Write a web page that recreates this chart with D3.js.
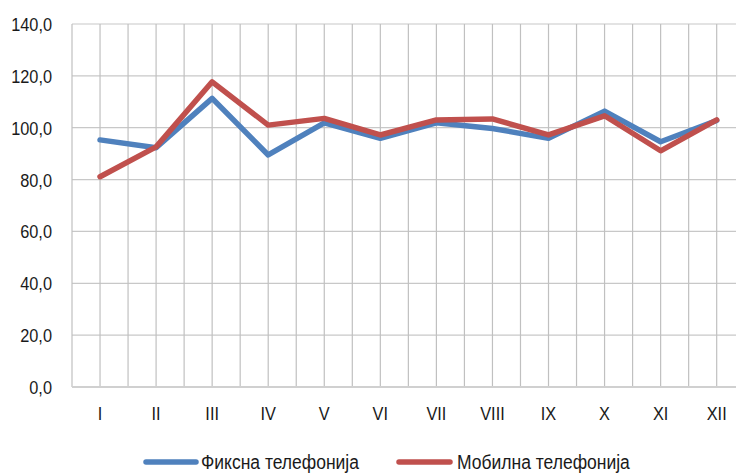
<!DOCTYPE html>
<html><head><meta charset="utf-8">
<script src="https://cdn.jsdelivr.net/npm/d3@7"></script>
<style>body{margin:0;background:#fff}svg{display:block}text{font-family:"Liberation Sans",Arial,sans-serif;fill:#1a1a1a}</style>
</head><body><svg id="c" width="736" height="473"></svg>
<script>
const months = ["I","II","III","IV","V","VI","VII","VIII","IX","X","XI","XII"];
const fixed = [95.3,92.3,111.3,89.5,101.9,95.9,101.9,99.7,95.9,106.4,94.6,102.8];
const mobile = [81.1,92.6,117.7,101.0,103.6,97.2,103.0,103.4,97.2,104.6,91.1,103.0];
const yTicks = [0,20,40,60,80,100,120,140];
const seriesNames = ["Фиксна телефонија","Мобилна телефонија"];
const colors = ["#4f81bd","#c0504d"];

const svg = d3.select("#c");
const mLeft = 72, mTop = 24, mBottom = 387, band = 56.06, sx = 0.86;
const x = d3.scaleBand().domain(months).range([mLeft, mLeft + band*months.length]).padding(0);
const y = d3.scaleLinear().domain([0,140]).range([mBottom, mTop]);
const cx = d => x(d) + x.bandwidth()/2;

svg.append("g").selectAll("line").data(yTicks.filter(t=>t>0)).join("line")
  .attr("x1", mLeft).attr("x2", 736).attr("y1", d=>y(d)).attr("y2", d=>y(d))
  .attr("stroke","#c8c8c8").attr("stroke-width",1.2);
const vx = [];
months.forEach(m => { vx.push(x(m)); vx.push(cx(m)); });
svg.append("g").selectAll("line").data(vx).join("line")
  .attr("x1", d=>d).attr("x2", d=>d).attr("y1", mTop).attr("y2", mBottom)
  .attr("stroke","#c0c0c0").attr("stroke-width",1.2);
svg.append("line").attr("x1",mLeft).attr("x2",736).attr("y1",mBottom).attr("y2",mBottom)
  .attr("stroke","#d0d0d0").attr("stroke-width",2);

svg.append("g").selectAll("text").data(yTicks).join("text")
  .attr("transform", d=>`translate(52,${y(d)+7}) scale(${sx},1)`).attr("text-anchor","end")
  .attr("font-size",19).text(d=>d.toFixed(1).replace(".",","));
svg.append("g").selectAll("text").data(months).join("text")
  .attr("transform", d=>`translate(${cx(d)},420) scale(${sx},1)`).attr("text-anchor","middle")
  .attr("font-size",19).text(d=>d);

const line = d3.line().x((d,i)=>cx(months[i])).y(d=>y(d));
[fixed, mobile].forEach((s,i)=>{
  svg.append("path").datum(s).attr("d",line).attr("fill","none")
    .attr("stroke",colors[i]).attr("stroke-width",5.5)
    .attr("stroke-linejoin","round").attr("stroke-linecap","round");
});

const leg = [{x1:146,x2:196,tx:201},{x1:399,x2:450,tx:457}];
leg.forEach((l,i)=>{
  svg.append("line").attr("x1",l.x1).attr("x2",l.x2).attr("y1",462).attr("y2",462)
    .attr("stroke",colors[i]).attr("stroke-width",5.5).attr("stroke-linecap","round");
  svg.append("text").attr("transform",`translate(${l.tx},469) scale(0.875,1)`)
    .attr("font-size",20).text(seriesNames[i]);
});
</script></body></html>
